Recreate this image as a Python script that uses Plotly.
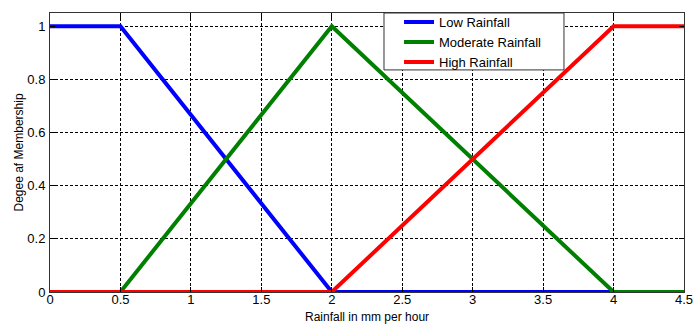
import plotly.graph_objects as go

low_x = [0, 0.5, 2, 4.5]
low_y = [1, 1, 0, 0]
mod_x = [0, 0.5, 2, 4, 4.5]
mod_y = [0, 0, 1, 0, 0]
high_x = [0, 2, 4, 4.5]
high_y = [0, 0, 1, 1]

x_ticks = [0, 0.5, 1, 1.5, 2, 2.5, 3, 3.5, 4, 4.5]
x_labels = ["0", "0.5", "1", "1.5", "2", "2.5", "3", "3.5", "4", "4.5"]
y_ticks = [0, 0.2, 0.4, 0.6, 0.8, 1]
y_labels = ["0", "0.2", "0.4", "0.6", "0.8", "1"]

x_title = "Rainfall in mm per hour"
y_title = "Degee af Membership"

fig = go.Figure()
fig.add_trace(go.Scatter(x=low_x, y=low_y, mode="lines", name="Low Rainfall",
                         line=dict(color="#0000ff", width=4)))
fig.add_trace(go.Scatter(x=mod_x, y=mod_y, mode="lines", name="Moderate Rainfall",
                         line=dict(color="#008000", width=4)))
fig.add_trace(go.Scatter(x=high_x, y=high_y, mode="lines", name="High Rainfall",
                         line=dict(color="#ff0000", width=4)))

font = "Liberation Sans, Arial, sans-serif"
axis_common = dict(
    showline=True, linecolor="#333333", linewidth=1, mirror="allticks",
    ticks="inside", ticklen=5, tickcolor="black", automargin=False,
    showgrid=True, gridcolor="black", gridwidth=1, griddash="3px,2px",
    zeroline=False, tickfont=dict(family=font, size=13, color="black"),
)

fig.update_layout(
    width=697, height=324,
    margin=dict(l=50, r=13, t=7, b=32),
    paper_bgcolor="white", plot_bgcolor="white",
    font=dict(family=font, size=12, color="black"),
    xaxis=dict(range=[0, 4.5], tickvals=x_ticks, ticktext=x_labels,
               ticklabelstandoff=-5, **axis_common),
    yaxis=dict(range=[0, 1.05], tickvals=y_ticks, ticktext=y_labels,
               ticklabelstandoff=1, **axis_common),
    legend=dict(x=0.5505, y=1.021, xanchor="left", yanchor="top",
                bgcolor="rgba(0,0,0,0)", borderwidth=0,
                font=dict(family=font, size=13, color="black"),
                tracegroupgap=0),
    shapes=[dict(type="rect", xref="paper", yref="paper",
                 x0=0.5268, x1=0.8107, y0=0.796, y1=1.0,
                 fillcolor="white", line=dict(color="#333333", width=1),
                 layer="above")],
    annotations=[
        dict(text=x_title, xref="paper", yref="paper", x=0.5, y=0,
             xanchor="center", yanchor="middle", yshift=-25, showarrow=False,
             font=dict(family=font, size=12, color="black")),
        dict(text=y_title, xref="paper", yref="paper", x=0, y=0.5,
             xanchor="center", yanchor="middle", xshift=-32, textangle=-90,
             showarrow=False, font=dict(family=font, size=12, color="black")),
    ],
    showlegend=True,
)

fig.write_html("out.html")
